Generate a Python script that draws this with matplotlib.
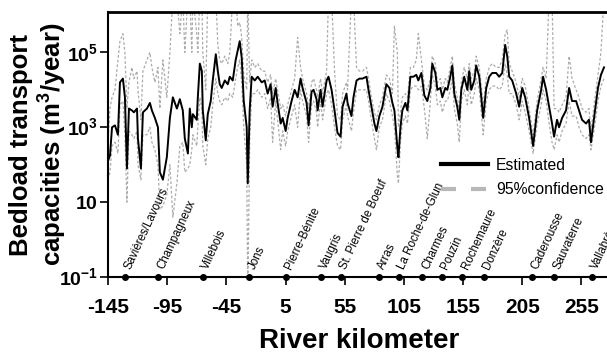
import matplotlib
matplotlib.use("Agg")
import matplotlib.pyplot as plt
from matplotlib.lines import Line2D
import numpy as np

plt.rcParams['font.family'] = ['Liberation Sans', 'DejaVu Sans']
plt.rcParams['mathtext.fontset'] = 'custom'
plt.rcParams['mathtext.rm'] = 'Liberation Sans:bold'
plt.rcParams['mathtext.bf'] = 'Liberation Sans:bold'

# river kilometre of each sampled point
km = [-145.0, -143.3, -141.6, -139.1, -136.6, -134.9, -132.4, -130.7, -129.0, -127.3,
      -124.8, -123.1, -120.5, -119.7, -117.2, -115.5, -112.1, -109.6, -107.9, -105.4,
      -102.8, -101.2, -98.6, -95.3, -92.7, -90.2, -86.8, -84.3, -81.8, -80.1,
      -77.5, -75.9, -74.2, -73.3, -70.0, -69.1, -67.4, -65.7, -64.9, -62.4,
      -60.7, -58.2, -56.5, -53.9, -52.2, -50.6, -48.9, -46.3, -43.8, -42.1,
      -39.6, -37.1, -35.4, -33.7, -32.0, -30.3, -27.8, -26.9, -25.3, -23.6,
      -21.0, -18.5, -15.1, -12.6, -10.1, -7.6, -5.9, -3.3, -1.7, 0.9,
      2.6, 5.1, 6.8, 10.1, 12.7, 15.2, 17.7, 19.4, 22.8, 24.5,
      27.0, 28.7, 31.2, 32.1, 34.6, 36.3, 39.7, 41.3, 43.9, 46.4,
      48.9, 51.5, 53.2, 56.5, 57.4, 60.7, 62.4, 65.0, 67.5, 70.0,
      73.4, 75.1, 77.6, 80.1, 81.8, 84.3, 86.9, 90.2, 92.8, 95.3,
      97.0, 99.5, 100.4, 102.1, 103.7, 106.3, 108.0, 110.5, 113.0, 115.5,
      117.2, 119.8, 122.3, 124.8, 127.4, 129.0, 131.6, 133.3, 135.8, 137.5,
      140.0, 141.7, 144.2, 145.9, 147.6, 150.1, 151.8, 153.5, 156.0, 158.6,
      160.2, 161.9, 164.5, 166.1, 168.7, 170.4, 172.0, 174.6, 177.1, 179.6,
      183.0, 185.5, 188.1, 190.6, 192.3, 194.0, 196.5, 199.9, 202.4, 205.0,
      207.5, 210.8, 214.2, 217.6, 221.0, 222.6, 225.2, 227.7, 230.2, 231.9,
      234.4, 236.1, 238.7, 242.0, 244.6, 247.1, 250.5, 253.0, 255.5, 258.9,
      261.4, 263.1, 266.5, 269.0, 271.5, 274.1]

# log10 of bedload capacity (m3/year)
est_log = [2.1, 2.25, 3.0, 3.05, 2.8, 4.2, 4.3, 3.8, 1.9, 3.5,
           3.45, 3.4, 3.5, 2.7, 1.9, 3.4, 3.5, 3.65, 3.45, 3.25,
           3.0, 1.8, 1.6, 2.2, 3.25, 3.8, 3.5, 3.75, 3.45, 2.7,
           2.3, 3.5, 3.0, 3.35, 3.2, 3.8, 4.7, 4.5, 3.45, 2.65,
           3.35, 3.7, 4.25, 4.95, 4.5, 4.15, 4.05, 4.25, 4.15, 4.35,
           4.25, 4.8, 5.05, 5.3, 4.85, 3.7, 3.0, 1.5, 3.45, 4.35,
           4.25, 4.35, 4.2, 4.25, 3.9, 4.15, 3.55, 4.05, 3.65, 3.1,
           3.25, 2.9, 3.25, 3.7, 4.0, 3.8, 4.3, 4.05, 3.65, 3.05,
           3.95, 4.0, 3.75, 3.45, 4.0, 3.55, 4.25, 4.35, 4.0, 3.45,
           2.85, 2.75, 3.55, 3.9, 3.65, 3.3, 3.8, 4.25, 4.3, 4.3,
           4.35, 4.0, 3.55, 3.1, 2.9, 3.3, 3.55, 4.15, 4.05, 3.65,
           3.45, 2.45, 2.2, 3.0, 3.45, 3.65, 3.45, 4.35, 4.35, 4.4,
           4.25, 4.45, 3.85, 3.7, 4.05, 4.7, 4.45, 4.0, 4.05, 3.8,
           4.05, 4.0, 4.35, 4.65, 3.9, 3.55, 3.2, 4.0, 4.35, 4.0,
           4.5, 4.0, 4.25, 4.65, 4.35, 3.8, 3.25, 4.05, 4.35, 4.45,
           4.45, 4.35, 4.45, 5.2, 4.9, 4.35, 4.25, 3.9, 3.55, 4.05,
           3.8, 3.25, 2.5, 3.45, 4.0, 4.35, 4.0, 3.55, 3.1, 2.75,
           3.2, 3.0, 3.25, 3.45, 4.05, 3.7, 3.7, 3.45, 3.2, 3.1,
           3.2, 2.6, 3.45, 4.05, 4.4, 4.6]

hi_log = [2.6, 3.5, 3.8, 4.0, 4.8, 5.3, 5.5, 5.0, 3.5, 4.2,
          4.6, 4.3, 4.5, 4.0, 3.2, 4.5, 4.8, 5.0, 4.6, 4.2,
          4.6, 3.5, 4.8, 3.8, 5.0, 6.5, 6.5, 5.5, 6.5, 5.0,
          6.5, 6.5, 5.0, 6.5, 5.5, 5.0, 6.5, 6.5, 5.0, 4.0,
          6.5, 6.5, 6.5, 6.5, 5.2, 4.8, 4.7, 4.9, 4.7, 5.0,
          6.5, 6.5, 5.7, 5.8, 5.4, 4.4, 4.0, 6.5, 4.2, 4.8,
          4.6, 4.7, 4.5, 4.5, 4.2, 4.4, 3.9, 4.3, 4.0, 3.5,
          3.6, 3.3, 3.6, 4.0, 4.3, 5.4, 4.6, 4.3, 3.9, 3.5,
          4.2, 4.3, 4.0, 3.8, 4.3, 3.9, 4.5, 6.5, 6.5, 4.5,
          3.3, 3.2, 3.9, 4.2, 4.0, 6.5, 6.5, 4.6, 4.5, 4.5,
          4.6, 4.3, 3.8, 3.4, 3.2, 3.6, 3.8, 4.4, 4.3, 3.9,
          5.7, 5.0, 3.0, 3.4, 3.8, 3.9, 3.8, 4.6, 4.6, 4.8,
          5.5, 4.8, 4.1, 4.0, 4.3, 4.9, 4.7, 4.2, 4.3, 4.0,
          4.3, 4.2, 4.6, 4.9, 4.2, 3.8, 3.5, 4.2, 4.6, 4.3,
          4.7, 4.3, 4.5, 4.9, 4.6, 4.1, 3.6, 4.3, 4.6, 4.7,
          4.6, 4.6, 4.8, 5.5, 5.6, 4.7, 4.5, 4.2, 3.8, 4.3,
          4.1, 3.5, 2.8, 3.7, 4.3, 4.6, 4.3, 6.5, 6.5, 3.5,
          3.5, 3.4, 3.6, 3.8, 4.9, 4.3, 4.0, 3.8, 3.5, 3.4,
          3.5, 2.9, 3.8, 4.4, 5.0, 6.5]

lo_log = [1.6, 1.8, 2.5, 2.6, 2.3, 3.6, 3.7, 2.8, 1.0, 2.9,
          2.8, 2.7, 2.9, 2.0, 1.6, 2.8, 2.8, 3.0, 2.6, 2.4,
          2.0, 0.8, 0.9, 1.2, 2.0, 0.6, 1.5, 2.5, 2.6, 1.8,
          1.9, 2.0, 2.4, 2.8, 2.5, 3.0, 3.8, 3.5, 2.5, 2.0,
          2.7, 3.0, 3.6, 4.3, 3.9, 3.7, 3.6, 3.8, 3.7, 3.9,
          3.8, 4.3, 4.6, 4.8, 4.2, 3.0, 2.0, -1.5, 2.6, 3.9,
          3.9, 4.0, 3.8, 3.9, 3.5, 3.8, 2.6, 3.7, 3.2, 2.4,
          2.9, 2.5, 2.9, 3.3, 3.6, 3.0, 4.0, 3.7, 3.3, 2.6,
          3.6, 3.7, 3.4, 3.0, 3.7, 3.2, 3.9, 4.0, 3.6, 3.0,
          2.5, 2.4, 3.2, 3.6, 3.3, 2.9, 3.4, 4.0, 4.0, 4.0,
          4.0, 3.7, 3.2, 2.7, 2.4, 3.0, 3.2, 3.9, 3.7, 3.3,
          3.0, 1.7, 1.5, 2.6, 3.1, 3.3, 3.1, 4.0, 4.1, 4.1,
          4.0, 4.1, 3.5, 2.7, 3.7, 4.4, 4.1, 3.6, 3.7, 3.4,
          3.7, 3.7, 4.0, 4.3, 3.5, 3.1, 2.6, 3.7, 4.0, 3.6,
          4.2, 3.6, 3.9, 4.3, 4.0, 3.4, 2.8, 3.7, 4.0, 4.1,
          4.1, 4.0, 4.1, 4.7, 4.4, 3.9, 3.9, 3.6, 3.2, 3.7,
          3.4, 2.9, 2.3, 3.1, 3.6, 4.0, 3.7, 3.1, 2.6, 2.4,
          2.8, 2.6, 2.9, 3.1, 3.7, 3.3, 3.3, 3.0, 2.8, 2.7,
          2.8, 2.4, 3.1, 3.7, 4.1, 4.3]

towns = ["Savières/Lavours", "Champagneux", "Villebois", "Jons", "Pierre-Bénite",
         "Vaugris", "St. Pierre de Boeuf", "Arras", "La Roche-de-Glun", "Charmes",
         "Pouzin", "Rochemaure", "Donzère", "Caderousse", "Sauvaterre", "Vallabrègues"]
town_km = [-130.6, -102.8, -65.0, -25.7, 5.1, 34.6, 51.5, 83.9, 100.7, 120.7,
           136.8, 154.2, 172.5, 213.3, 231.6, 263.7]

xticks = [-145, -95, -45, 5, 55, 105, 155, 205, 255]
yticks = [1e-1, 1e1, 1e3, 1e5]
ytick_labels = [r'$10^{-1}$', r'$10$', r'$10^{3}$', r'$10^{5}$']

fig = plt.figure(figsize=(6.07, 3.6), dpi=100)
ax = fig.add_axes([108 / 607, 1 - 277 / 360, 503 / 607, 265 / 360])

x = np.array(km)
est = 10 ** np.array(est_log)
hi = 10 ** np.array(hi_log)
lo = 10 ** np.array(lo_log)

ax.plot(x, hi, color='#acacac', lw=0.9, dashes=(2.2, 1.6))
ax.plot(x, lo, color='#acacac', lw=0.9, dashes=(2.2, 1.6))
ax.plot(x, est, color='black', lw=1.4)

ax.set_yscale('log')
ax.set_xlim(-145, 280)
ax.set_ylim(1e-1, 1.2e6)

ax.set_xticks(xticks)
ax.set_xticklabels([str(t) for t in xticks], fontsize=15, fontweight='bold')
ax.set_yticks(yticks)
ax.set_yticklabels(ytick_labels, fontsize=14)
ax.yaxis.set_minor_locator(matplotlib.ticker.NullLocator())
ax.tick_params(axis='x', direction='out', length=6, width=1.2, pad=9)
ax.tick_params(axis='y', direction='out', length=6, width=1.2, pad=1)

for s in ['left', 'bottom']:
    ax.spines[s].set_linewidth(1.5)
ax.spines['top'].set_linewidth(2)
ax.spines['right'].set_visible(False)

# towns on the x axis
ax.plot(town_km, [1e-1] * len(town_km), 'o', color='black', ms=4, clip_on=False, zorder=5)
for name, k in zip(towns, town_km):
    ax.annotate(name, (k, 1e-1), xytext=(2, 6), textcoords='offset points',
                rotation=65, rotation_mode='anchor', ha='left', va='center',
                fontsize=8.3, annotation_clip=False)

ax.set_ylabel('Bedload transport\ncapacities (m$^3$/year)', fontsize=18.5,
              fontweight='bold', linespacing=1.05, labelpad=-6)
ax.set_xlabel('River kilometer', fontsize=20, fontweight='bold', labelpad=8)

handles = [Line2D([], [], color='black', lw=3),
           Line2D([], [], color='#b8b8b8', lw=3, dashes=(3.6, 3.6))]
ax.legend(handles, ['Estimated', '95%confidence'], loc='upper left',
          bbox_to_anchor=(0.662, 0.45), frameon=False, fontsize=11.3,
          handlelength=3.0, handletextpad=0.5, labelspacing=0.6, borderpad=0,
          borderaxespad=0)

fig.savefig('out.png', dpi=100)
